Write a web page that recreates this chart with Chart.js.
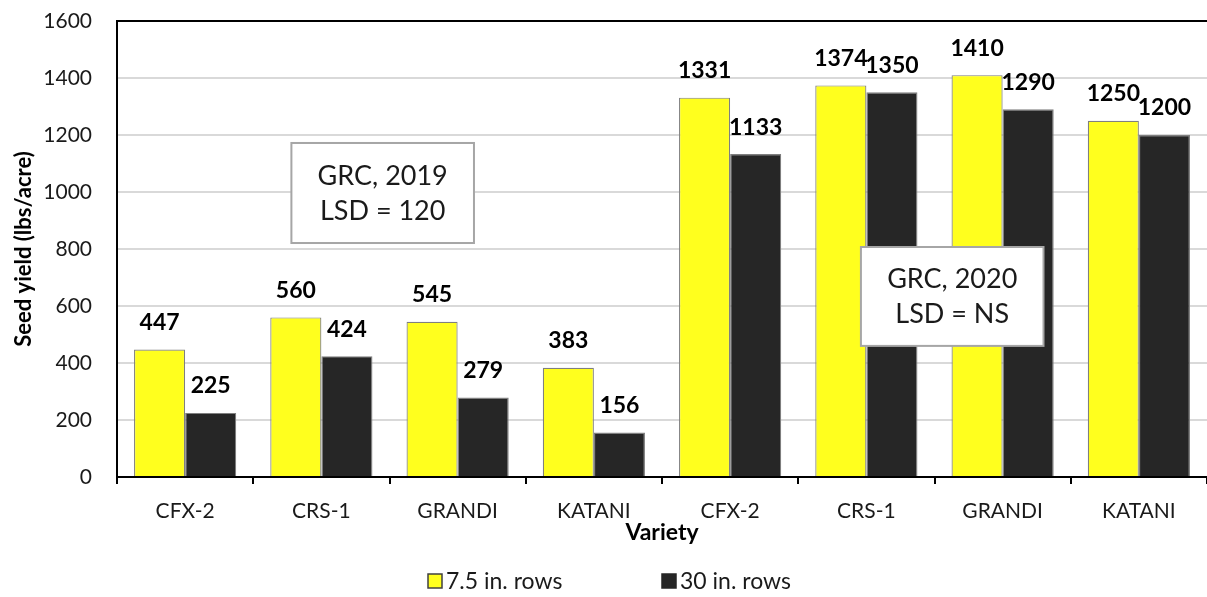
<!DOCTYPE html>
<html>
<head>
<meta charset="utf-8">
<script src="https://cdn.jsdelivr.net/npm/chart.js@4/dist/chart.umd.min.js"></script>
<style>
html,body{margin:0;padding:0;background:#fff;}
#wrap{width:1207px;height:597px;position:relative;}
</style>
</head>
<body>
<div id="wrap"><canvas id="c" width="1207" height="597"></canvas></div>
<script>
const categories = ['CFX-2','CRS-1','GRANDI','KATANI','CFX-2','CRS-1','GRANDI','KATANI'];
const rows75 = [447, 560, 545, 383, 1331, 1374, 1410, 1250];
const rows30 = [225, 424, 279, 156, 1133, 1350, 1290, 1200];
const seriesNames = ['7.5 in. rows', '30 in. rows'];
const yTicks = [0, 200, 400, 600, 800, 1000, 1200, 1400, 1600];
const notes = [
  {lines: ['GRC, 2019', 'LSD = 120'], x0: 0.78, x1: 2.12, y0: 1172, y1: 821},
  {lines: ['GRC, 2020', 'LSD = NS'],  x0: 4.96, x1: 6.30, y0: 807,  y1: 460}
];

const FONT = 'Lato, "Open Sans", sans-serif';
const colors = ['#ffff1e', '#262626'];

const extras = {
  id: 'extras',
  afterDatasetsDraw(chart) {
    const ctx = chart.ctx, x = chart.scales.x, y = chart.scales.y, ca = chart.chartArea;
    ctx.save();
    ctx.strokeStyle = '#000'; ctx.lineWidth = 2;
    ctx.beginPath(); ctx.moveTo(ca.left - 1, ca.top); ctx.lineTo(ca.right, ca.top); ctx.stroke();
    const step = x.getPixelForValue(1) - x.getPixelForValue(0);
    const p0 = x.getPixelForValue(0);
    notes.forEach(n => {
      const l = p0 + n.x0 * step, r = p0 + n.x1 * step;
      const t = y.getPixelForValue(n.y0), b = y.getPixelForValue(n.y1);
      ctx.fillStyle = '#fff'; ctx.fillRect(l, t, r - l, b - t);
      ctx.strokeStyle = '#a6a6a6'; ctx.lineWidth = 2; ctx.strokeRect(l, t, r - l, b - t);
      ctx.fillStyle = '#1a1a1a'; ctx.font = '27px ' + FONT;
      ctx.textAlign = 'center'; ctx.textBaseline = 'middle';
      const cx = (l + r) / 2, cy = (t + b) / 2;
      ctx.fillText(n.lines[0], cx, cy - 17);
      ctx.fillText(n.lines[1], cx, cy + 18);
    });
    ctx.font = 'bold 23px ' + FONT; ctx.fillStyle = '#000';
    ctx.textAlign = 'center'; ctx.textBaseline = 'middle';
    chart.data.datasets.forEach((ds, di) => {
      chart.getDatasetMeta(di).data.forEach((el, i) => {
        ctx.fillText(String(ds.data[i]), el.x, el.y - 27);
      });
    });
    ctx.font = '23px ' + FONT; ctx.textAlign = 'left';
    const lx = [428, 662], ly = 581;
    seriesNames.forEach((s, i) => {
      ctx.fillStyle = colors[i]; ctx.fillRect(lx[i], ly - 7, 14, 14);
      ctx.strokeStyle = i === 0 ? '#404040' : '#262626'; ctx.lineWidth = 1.5;
      ctx.strokeRect(lx[i], ly - 7, 14, 14);
      ctx.fillStyle = '#1a1a1a';
      ctx.fillText(s, lx[i] + 18, ly + 1);
    });
    ctx.restore();
  }
};

new Chart(document.getElementById('c'), {
  type: 'bar',
  data: {
    labels: categories,
    datasets: [
      {label: seriesNames[0], data: rows75, backgroundColor: colors[0], borderColor: '#7f7f7f', borderWidth: 1.2, categoryPercentage: 0.75, barPercentage: 1},
      {label: seriesNames[1], data: rows30, backgroundColor: colors[1], borderColor: '#7f7f7f', borderWidth: 1.2, categoryPercentage: 0.75, barPercentage: 1}
    ]
  },
  options: {
    responsive: false,
    animation: false,
    layout: {padding: {top: 21, right: 0, left: 0, bottom: 47}},
    plugins: {legend: {display: false}, tooltip: {enabled: false}},
    scales: {
      x: {
        grid: {drawOnChartArea: false, drawTicks: true, tickLength: 7, color: '#000', lineWidth: 2, offset: true},
        border: {color: '#000', width: 2},
        ticks: {color: '#1a1a1a', font: {family: FONT, size: 21}, padding: 15},
        title: {display: true, text: 'Variety', color: '#000', font: {family: FONT, size: 23, weight: 'bold'}, padding: {top: -2}},
        afterFit: s => { s.height = 73; s.paddingLeft = 0; s.paddingRight = 0; }
      },
      y: {
        min: 0, max: 1600,
        afterBuildTicks: s => { s.ticks = yTicks.map(v => ({value: v})); },
        grid: {color: '#d9d9d9', lineWidth: 2, drawTicks: false},
        border: {color: '#000', width: 2},
        ticks: {color: '#1a1a1a', font: {family: FONT, size: 21}, padding: 25, callback: v => String(v)},
        title: {display: true, text: 'Seed yield (lbs/acre)', color: '#000', font: {family: FONT, size: 22, weight: 'bold'}, padding: {top: 11, bottom: 0}},
        afterFit: s => { s.width = 117; s.paddingTop = 0; s.paddingBottom = 0; }
      }
    }
  },
  plugins: [extras]
});
</script>
</body>
</html>
